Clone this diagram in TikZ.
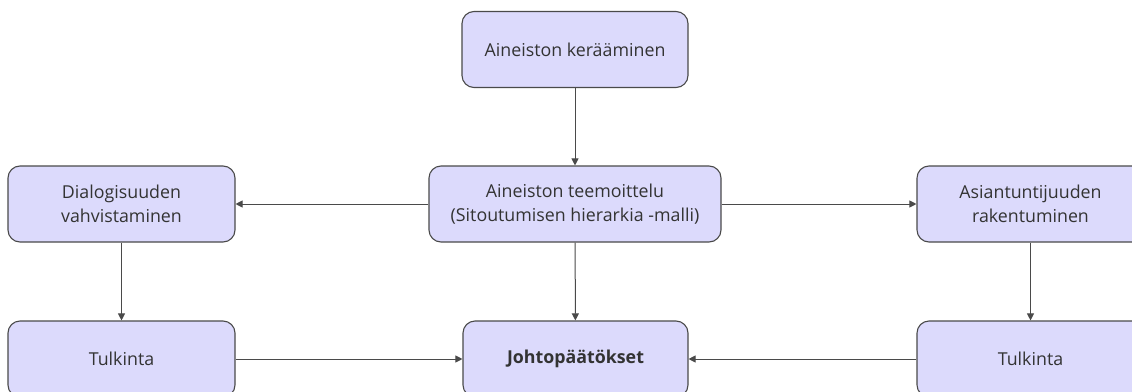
\documentclass[tikz,border=0pt]{standalone}
\usepackage{fontspec}
\setmainfont{Open Sans}
\usetikzlibrary{arrows.meta}
\definecolor{boxfill}{HTML}{DCDAFC}
\definecolor{boxline}{HTML}{4A4A4A}
\definecolor{txt}{HTML}{333333}
\begin{document}
\begin{tikzpicture}[x=1pt,y=-1pt,
  box/.style={draw=boxline, line width=1.1pt, fill=boxfill, rounded corners=12pt,
    minimum height=76pt, align=center, text=txt, font=\fontsize{17.8}{24}\selectfont, inner sep=0pt},
  conn/.style={draw=boxline, line width=1pt, -{Triangle[length=7pt,width=7pt]}}]
\useasboundingbox (0,0) rectangle (1132,391);
\clip (0,0) rectangle (1132,391);
\node[box, minimum width=226pt] (gather) at (575,49.5) {Aineiston kerääminen};
\node[box, minimum width=292pt] (theme) at (575,204) {Aineiston teemoittelu\\(Sitoutumisen hierarkia -malli)};
\node[box, minimum width=227pt] (dialog) at (121.5,204) {Dialogisuuden\\vahvistaminen};
\node[box, minimum width=227pt] (expert) at (1030.5,204) {Asiantuntijuuden\\rakentuminen};
\node[box, minimum width=227pt] (tulkL) at (121.5,359) {Tulkinta};
\node[box, minimum width=225pt] (concl) at (575.5,359) {\textbf{Johtopäätökset}};
\node[box, minimum width=227pt] (tulkR) at (1030.5,359) {Tulkinta};
\draw[conn] (gather) -- (theme);
\draw[conn] (theme) -- (dialog);
\draw[conn] (theme) -- (expert);
\draw[conn] (dialog) -- (tulkL);
\draw[conn] (theme) -- (concl);
\draw[conn] (expert) -- (tulkR);
\draw[conn] (tulkL) -- (concl);
\draw[conn] (tulkR) -- (concl);
\end{tikzpicture}
\end{document}
